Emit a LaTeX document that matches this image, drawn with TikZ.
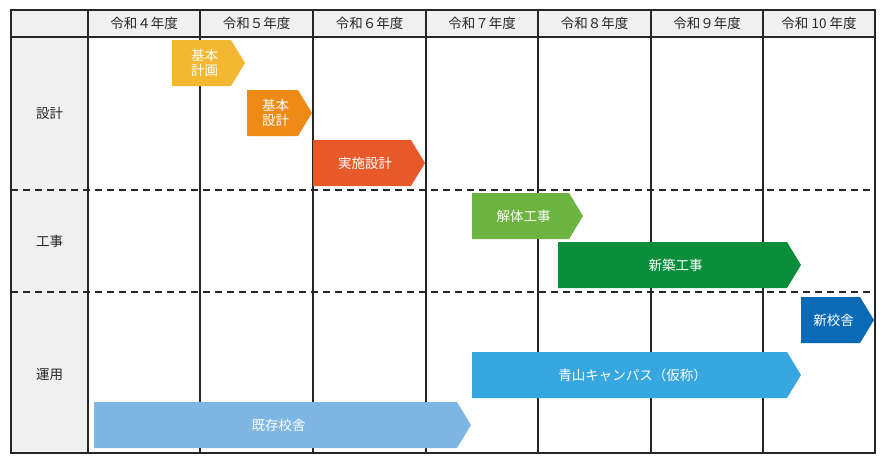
\documentclass[tikz,border=0pt]{standalone}
\usepackage{fontspec}
\setmainfont{Noto Sans CJK JP}
\begin{document}
\begin{tikzpicture}[x=1pt,y=-1pt,
  hdr/.style={font=\fontsize{13.5}{15}\selectfont, text=black!85},
  lbl/.style={font=\fontsize{13.5}{15}\selectfont, text=white, align=center, inner sep=0pt},
  grid/.style={line width=1.3pt, black!85}]
\useasboundingbox (0,0) rectangle (886,464);
\fill[white] (0,0) rectangle (886,464);
\fill[black!6] (11,10) rectangle (875,37);
\fill[black!6] (11,37) rectangle (88,453);
% columns
\foreach \x in {88,200,313,426,538,651,763} \draw[grid] (\x,10) -- (\x,453);
\draw[grid] (11,37) -- (875,37);
\draw[grid] (11,10) rectangle (875,453);
\draw[grid,dash pattern=on 7pt off 5pt] (11,190) -- (875,190);
\draw[grid,dash pattern=on 7pt off 5pt] (11,292) -- (875,292);
% headers
\node[hdr] (h4) at (144,23.5) {令和４年度};
\node[hdr] (h5) at (256.5,23.5) {令和５年度};
\node[hdr] (h6) at (369.5,23.5) {令和６年度};
\node[hdr] (h7) at (482,23.5) {令和７年度};
\node[hdr] (h8) at (594.5,23.5) {令和８年度};
\node[hdr] (h9) at (707,23.5) {令和９年度};
\node[hdr] (h10) at (819,23.5) {令和 10 年度};
\node[hdr] (r1) at (49.5,113) {設計};
\node[hdr] (r2) at (49.5,241) {工事};
\node[hdr] (r3) at (49.5,375) {運用};
\newcommand\mybar[7]{%
  \fill[#5] (#1,#3) -- ({#2-14},#3) -- (#2,{(#3+#4)/2}) -- ({#2-14},#4) -- (#1,#4) -- cycle;
  \node[lbl] (#6) at ({(#1+#2-8)/2},{(#3+#4)/2}) {#7};}
\definecolor{c1}{HTML}{F4B731}
\definecolor{c2}{HTML}{EE8B17}
\definecolor{c3}{HTML}{E8592A}
\definecolor{c4}{HTML}{6CB33F}
\definecolor{c5}{HTML}{0A8E3C}
\definecolor{c6}{HTML}{0A6AB5}
\definecolor{c7}{HTML}{36A7E0}
\definecolor{c8}{HTML}{7EB6E4}
\mybar{172}{245}{40}{86}{c1}{b1}{基本\\計画}
\mybar{247}{312}{90}{136}{c2}{b2}{基本\\設計}
\mybar{313}{425}{140}{186}{c3}{b3}{実施設計}
\mybar{472}{583}{193}{239}{c4}{b4}{解体工事}
\mybar{558}{801}{242}{288}{c5}{b5}{新築工事}
\mybar{801}{874}{297}{343}{c6}{b6}{新校舎}
\mybar{472}{801}{352}{398}{c7}{b7}{青山キャンパス（仮称）}
\mybar{94}{471}{402}{448}{c8}{b8}{既存校舎}
\end{tikzpicture}
\end{document}
